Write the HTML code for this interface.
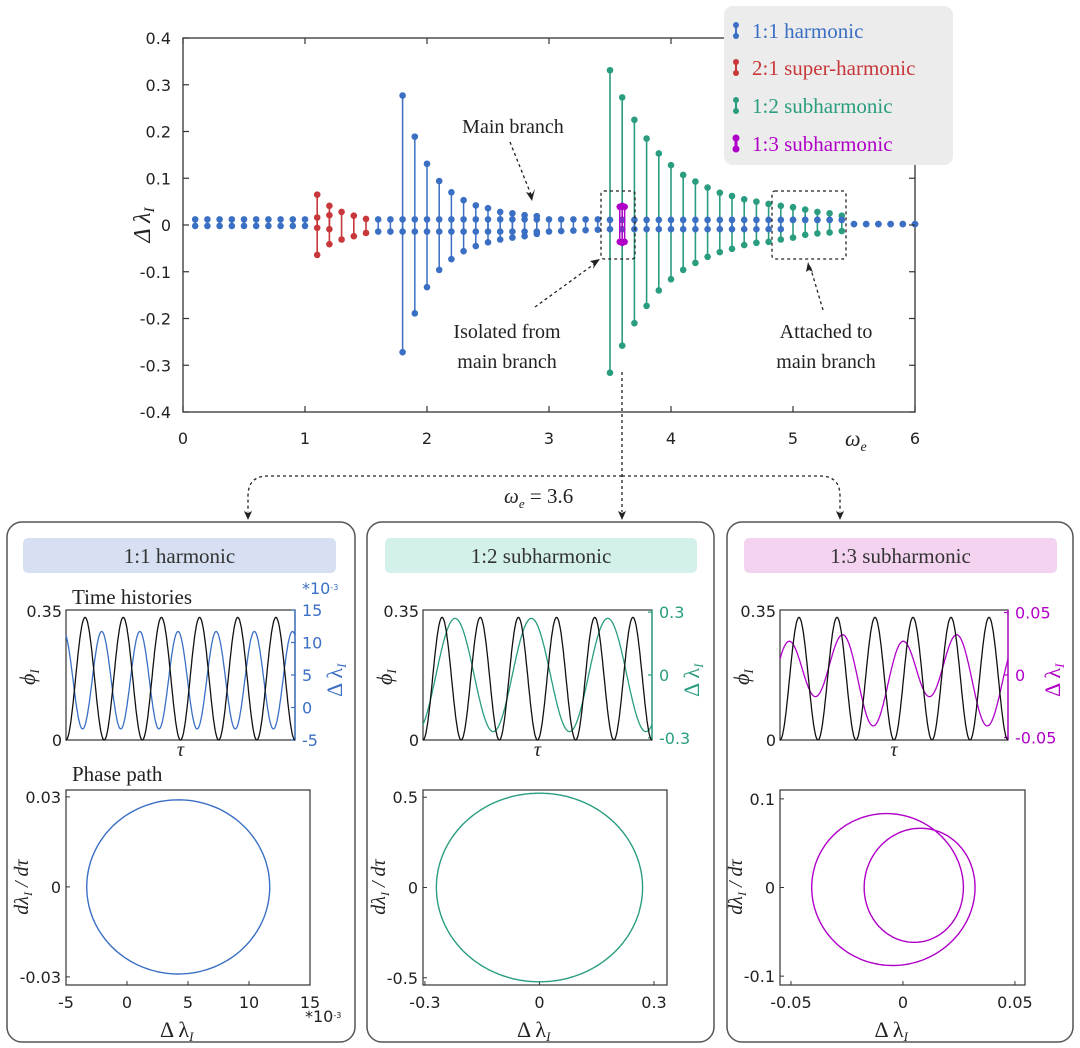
<!DOCTYPE html>
<html><head><meta charset="utf-8">
<style>
html,body{margin:0;padding:0;background:#fff;}
svg{display:block;}
.tk{font-family:"DejaVu Sans","Liberation Sans",sans-serif;font-size:16px;fill:#222;}
.sr{font-family:"Liberation Serif",serif;fill:#222;}
</style></head>
<body>
<svg id="fig" xmlns="http://www.w3.org/2000/svg" width="1080" height="1048" viewBox="0 0 1080 1048">
  <rect x="183" y="38" width="732" height="374" fill="none" stroke="#333" stroke-width="1.3"/>
  <g id="main-marks"></g>
  <text class="sr" x="150" y="225" font-size="24" font-style="italic" text-anchor="middle" transform="rotate(-90 150 225)">Δ λ<tspan font-size="15" dy="4">I</tspan></text>
  <text class="sr" x="845" y="446" font-size="22" font-style="italic">ω<tspan font-size="14" dy="5">e</tspan></text>
  <rect x="601" y="191" width="34" height="68" fill="none" stroke="#222" stroke-width="1.3" stroke-dasharray="3,3" rx="3"/>
  <rect x="772" y="191" width="74" height="68" fill="none" stroke="#222" stroke-width="1.3" stroke-dasharray="3,3" rx="3"/>
  <text class="sr" x="513" y="133" font-size="20" text-anchor="middle">Main branch</text>
  <path d="M510 142 L532 197" stroke="#222" stroke-width="1.3" stroke-dasharray="3,3" fill="none"/>
  <path d="M532 201 l-6 -9 l6 2 l3 -5z" fill="#222"/>
  <text class="sr" x="507" y="338" font-size="20" text-anchor="middle">Isolated from</text>
  <text class="sr" x="507" y="368" font-size="20" text-anchor="middle">main branch</text>
  <path d="M535 307 L597 262" stroke="#222" stroke-width="1.3" stroke-dasharray="3,3" fill="none"/>
  <path d="M600 259 l-10 2 l4 3 l-1 5z" fill="#222"/>
  <text class="sr" x="826" y="338" font-size="20" text-anchor="middle">Attached to</text>
  <text class="sr" x="826" y="368" font-size="20" text-anchor="middle">main branch</text>
  <path d="M823 310 L810 266" stroke="#222" stroke-width="1.3" stroke-dasharray="3,3" fill="none"/>
  <path d="M808 262 l-2 10 l3 -2 l4 2z" fill="#222"/>
  <g id="legend">
    <rect x="724" y="6" width="229" height="159" rx="9" fill="#ececec"/>
    <g><line x1="736" y1="25" x2="736" y2="36" stroke="#3a6fc4" stroke-width="2"/><circle cx="736" cy="25" r="3" fill="#3a6fc4"/><circle cx="736" cy="36" r="3" fill="#3a6fc4"/><text class="sr" x="752" y="38" font-size="21" style="fill:#3a6fc4">1:1 harmonic</text></g>
    <g><line x1="736" y1="62" x2="736" y2="73" stroke="#c8383a" stroke-width="2"/><circle cx="736" cy="62" r="3" fill="#c8383a"/><circle cx="736" cy="73" r="3" fill="#c8383a"/><text class="sr" x="752" y="75" font-size="21" style="fill:#c8383a">2:1 super-harmonic</text></g>
    <g><line x1="736" y1="100" x2="736" y2="111" stroke="#2a9d80" stroke-width="2"/><circle cx="736" cy="100" r="3" fill="#2a9d80"/><circle cx="736" cy="111" r="3" fill="#2a9d80"/><text class="sr" x="752" y="113" font-size="21" style="fill:#2a9d80">1:2 subharmonic</text></g>
    <g><line x1="736" y1="138" x2="736" y2="149" stroke="#b000c8" stroke-width="3"/><circle cx="736" cy="138" r="3.5" fill="#b000c8"/><circle cx="736" cy="149" r="3.5" fill="#b000c8"/><text class="sr" x="752" y="151" font-size="21" style="fill:#b000c8">1:3 subharmonic</text></g>
  </g>
  <path d="M622 372 L622 512" stroke="#222" stroke-width="1.3" stroke-dasharray="3,3" fill="none"/>
  <path d="M622 476 L268 476 Q248 476 248 496 L248 512" stroke="#222" stroke-width="1.3" stroke-dasharray="3,3" fill="none"/>
  <path d="M622 476 L820 476 Q840 476 840 496 L840 512" stroke="#222" stroke-width="1.3" stroke-dasharray="3,3" fill="none"/>
  <path d="M248 520 l-4 -9 l4 2 l4 -2z M622 520 l-4 -9 l4 2 l4 -2z M840 520 l-4 -9 l4 2 l4 -2z" fill="#222"/>
  <text class="sr" x="504" y="503" font-size="21"><tspan font-style="italic">ω</tspan><tspan font-size="13" dy="5" font-style="italic">e</tspan><tspan dy="-5"> = 3.6</tspan></text>
  <g id="panels"></g>
</svg>
<script>
const NS = "http://www.w3.org/2000/svg";
// ---- main chart data ----
const mainX  = [0.1,0.2,0.3,0.4,0.5,0.6,0.7,0.8,0.9,1.0,1.6,1.7,1.8,1.9,2.0,2.1,2.2,2.3,2.4,2.5,2.6,2.7,2.8,2.9,3.0,3.1,3.2,3.3,3.4,3.5,3.6,3.7,3.8,3.9,4.0,4.1,4.2,4.3,4.4,4.5,4.6,4.7,4.8,4.9,5.0,5.1,5.2,5.3,5.4,5.5,5.6,5.7,5.8,5.9,6.0];
const mainUp = [0.012,0.012,0.012,0.012,0.012,0.012,0.012,0.012,0.012,0.012,0.012,0.012,0.012,0.012,0.012,0.012,0.012,0.012,0.012,0.012,0.012,0.012,0.012,0.012,0.012,0.012,0.012,0.012,0.012,0.011,0.011,0.011,0.011,0.011,0.011,0.011,0.011,0.011,0.011,0.011,0.011,0.011,0.011,0.011,0.011,0.011,0.011,0.011,0.011,0.002,0.002,0.002,0.002,0.002,0.002];
const mainLo = [-0.002,-0.002,-0.002,-0.002,-0.002,-0.002,-0.002,-0.002,-0.002,-0.002,-0.014,-0.014,-0.014,-0.014,-0.014,-0.014,-0.014,-0.014,-0.014,-0.014,-0.014,-0.014,-0.014,-0.014,-0.014,-0.013,-0.012,-0.011,-0.010,-0.009,-0.009,-0.009,-0.009,-0.009,-0.009,-0.009,-0.009,-0.009,-0.009,-0.009,-0.009,-0.009,-0.009,-0.009,0.011,0.011,0.011,0.011,0.011,0.002,0.002,0.002,0.002,0.002,0.002];
const harmX   = [1.8,1.9,2.0,2.1,2.2,2.3,2.4,2.5,2.6,2.7,2.8,2.9];
const harmMax = [0.277,0.189,0.131,0.094,0.070,0.053,0.042,0.036,0.028,0.025,0.021,0.019];
const harmMin = [-0.272,-0.189,-0.133,-0.096,-0.073,-0.056,-0.045,-0.037,-0.031,-0.027,-0.024,-0.019];
const superX   = [1.1,1.2,1.3,1.4,1.5];
const superMax = [0.065,0.041,0.028,0.020,0.013];
const superMin = [-0.064,-0.041,-0.031,-0.024,-0.017];
const superInX  = [1.1,1.2];
const superInUp = [0.016,0.021];
const superInLo = [-0.006,-0.009];
const subX   = [3.5,3.6,3.7,3.8,3.9,4.0,4.1,4.2,4.3,4.4,4.5,4.6,4.7,4.8,4.9,5.0,5.1,5.2,5.3,5.4];
const subMax = [0.331,0.273,0.225,0.185,0.153,0.128,0.107,0.093,0.080,0.069,0.062,0.055,0.050,0.045,0.041,0.038,0.033,0.028,0.025,0.020];
const subMin = [-0.316,-0.258,-0.210,-0.173,-0.140,-0.116,-0.096,-0.081,-0.068,-0.058,-0.051,-0.043,-0.038,-0.036,-0.031,-0.027,-0.021,-0.018,-0.016,-0.013];
const sub3X   = [3.58,3.6,3.62];
const sub3Max = [0.039,0.041,0.039];
const sub3Min = [-0.036,-0.038,-0.036];
const xTicks = [0,1,2,3,4,5,6];
const yTicks = [0.4,0.3,0.2,0.1,0,-0.1,-0.2,-0.3,-0.4];
const yTickLabels = ["0.4","0.3","0.2","0.1","0","-0.1","-0.2","-0.3","-0.4"];

const C = {blue:"#3a6fc4", red:"#c8383a", green:"#2a9d80", mag:"#b000c8"};
const X = v => 183 + v*122;
const Y = v => 225 - v*467.5;
function add(p, tag, attrs){ const el=document.createElementNS(NS,tag); for(const k in attrs) el.setAttribute(k,attrs[k]); p.appendChild(el); return el; }
const fig = document.getElementById('fig');
const mm = document.getElementById('main-marks');

xTicks.forEach(v=>{
  let t = add(fig,'line',{x1:X(v),x2:X(v),y1:412,y2:406,stroke:'#333','stroke-width':1.2});
  
  
  let t2 = add(fig,'line',{x1:X(v),x2:X(v),y1:38,y2:44,stroke:'#333','stroke-width':1.2});
  
  
  let l = add(fig,'text',{x:X(v),y:444,'text-anchor':'middle',class:'tk','font-size':17});
  l.textContent = String(v);
  
  
});
yTicks.forEach((v,i)=>{
  let t = add(fig,'line',{x1:183,x2:189,y1:Y(v),y2:Y(v),stroke:'#333','stroke-width':1.2});
  
  
  let t2 = add(fig,'line',{x1:915,x2:909,y1:Y(v),y2:Y(v),stroke:'#333','stroke-width':1.2});
  
  
  let l = add(fig,'text',{x:171,y:Y(v)+6,'text-anchor':'end',class:'tk','font-size':17});
  l.textContent = yTickLabels[i];
  
  
});
fig.appendChild(document.getElementById('legend'));

function stems(xs, hi, lo, col, name, r, w){
  xs.forEach((x,i)=>{
    let s = add(mm,'line',{x1:X(x),x2:X(x),y1:Y(hi[i]),y2:Y(lo[i]),stroke:col,'stroke-width':w});
    
    
    let a = add(mm,'circle',{cx:X(x),cy:Y(hi[i]),r:r,fill:col});
    
    
    let b = add(mm,'circle',{cx:X(x),cy:Y(lo[i]),r:r,fill:col});
    
    
  });
}
stems(harmX, harmMax, harmMin, C.blue, 'harmonic', 3.3, 1.5);
stems(subX, subMax, subMin, C.green, 'subharmonic-12', 3.3, 1.6);
stems(superX, superMax, superMin, C.red, 'superharmonic', 3.3, 1.6);
stems(superInX, superInUp, superInLo, C.red, 'superharmonic-inner', 3.3, 1.6);
stems(mainX, mainUp, mainLo, C.blue, 'main-branch', 3.3, 1.5);
stems(sub3X, sub3Max, sub3Min, C.mag, 'subharmonic-13', 3.3, 1.5);

// ---- detail panels data ----
const phiMean = [0.165, 0.165, 0.165];
const phiAmp  = [0.165, 0.165, 0.165];
// response harmonics per panel: [mean, amp, freq (per forcing cycle), phase(cycles)]
const resp1 = [[0.0042, 0.0075, 1, 0.935]];
const resp2 = [[0, 0.27, 0.5, 0.42]];
const resp3 = [[0, 0.012, 1/3, 0.35],[0, 0.029, 2/3, 0.13]];
const omegaTau = 3.87;
const ts1Ticks = [15,10,5,0,-5];
const ts2Ticks = [0.3,0,-0.3];
const ts3Ticks = [0.05,0,-0.05];
const ts1Labels = ["15","10","5","0","-5"];
const ts2Labels = ["0.3","0","-0.3"];
const ts3Labels = ["0.05","0","-0.05"];
const ph1X = [-5,0,5,10,15], ph1XL = ["-5","0","5","10","15"];
const ph1Y = [0.03,0,-0.03], ph1YL = ["0.03","0","-0.03"];
const ph2X = [-0.3,0,0.3], ph2XL = ["-0.3","0","0.3"];
const ph2Y = [0.5,0,-0.5], ph2YL = ["0.5","0","-0.5"];
const ph3X = [-0.05,0,0.05], ph3XL = ["-0.05","0","0.05"];
const ph3Y = [0.1,0,-0.1], ph3YL = ["0.1","0","-0.1"];

const panels = [
 {name:'harmonic', title:'1:1 harmonic', tb:'#d6e0f2', col:C.blue, box:[7,522,348,520], tit:[23,538,313,35], L:66, R:295, L2:66, R2:310,
  resp:resp1, rl:[-5,15], rscale:1000, rt:ts1Ticks, rtl:ts1Labels, px:[-5,15], pxs:1000, py:[-0.0327,0.0323], pxt:ph1X, pxtl:ph1XL, pyt:ph1Y, pytl:ph1YL, k:0},
 {name:'subharmonic-12', title:'1:2 subharmonic', tb:'#d3f0ea', col:C.green, box:[367,522,347,520], tit:[385,538,312,35], L:423, R:652, L2:423, R2:667,
  resp:resp2, rl:[-0.31,0.31], rscale:1, rt:ts2Ticks, rtl:ts2Labels, px:[-0.305,0.334], pxs:1, py:[-0.54,0.54], pxt:ph2X, pxtl:ph2XL, pyt:ph2Y, pytl:ph2YL, k:1},
 {name:'subharmonic-13', title:'1:3 subharmonic', tb:'#f3d3ef', col:C.mag, box:[727,522,346,520], tit:[744,538,313,35], L:780, R:1008, L2:780, R2:1025,
  resp:resp3, rl:[-0.052,0.052], rscale:1, rt:ts3Ticks, rtl:ts3Labels, px:[-0.0549,0.0545], pxs:1, py:[-0.11,0.11], pxt:ph3X, pxtl:ph3XL, pyt:ph3Y, pytl:ph3YL, k:2}
];
const PG = document.getElementById('panels');
function lam(resp,T){ let s=0; resp.forEach(h=>{ s+= h[0] + h[1]*Math.cos(2*Math.PI*(h[2]*T - h[3])); }); return s; }
function dlam(resp,T){ let s=0; resp.forEach(h=>{ s+= -h[1]*omegaTau*h[2]*Math.sin(2*Math.PI*(h[2]*T - h[3])); }); return s; }
function txt(g,x,y,s,attrs,name){ const t=add(g,'text',Object.assign({x:x,y:y},attrs)); t.textContent=s;   return t; }
function sub(t, s, size, dy, italic){ const ts=add(t,'tspan',{'font-size':size,dy:dy}); if(italic) ts.setAttribute('font-style','italic'); ts.textContent=s; return ts; }

panels.forEach(p=>{
  const g = add(PG,'g',{});
  
  
  const b = add(g,'rect',{x:p.box[0],y:p.box[1],width:p.box[2],height:p.box[3],rx:15,fill:'none',stroke:'#555','stroke-width':1.5});
  
  
  const tb = add(g,'rect',{x:p.tit[0],y:p.tit[1],width:p.tit[2],height:p.tit[3],rx:5,fill:p.tb});
  
  
  txt(g,p.tit[0]+p.tit[2]/2,p.tit[1]+25,p.title,{class:'sr','font-size':21,'text-anchor':'middle',style:'fill:#333'},'panel-title');
  const T0=610,B0=740,L=p.L,R=p.R;
  if(p.k===0){ txt(g,72,604,'Time histories',{class:'sr','font-size':21},'time-histories-label');
               txt(g,72,781,'Phase path',{class:'sr','font-size':21},'phase-path-label');
               const e = txt(g,302,594,'*10',{class:'tk','font-size':10,style:'fill:'+p.col},'exponent-label');
               sub(e,'-3',8,-4,false); }
  const fr = add(g,'rect',{x:L,y:T0,width:R-L,height:B0-T0,fill:'none',stroke:'#333','stroke-width':1.2});
  
  
  const ra = add(g,'line',{x1:R,x2:R,y1:T0,y2:B0,stroke:p.col,'stroke-width':1.4});
  
  
  txt(g,L-4,T0+7,'0.35',{class:'tk','font-size':15,'text-anchor':'end'},'phi-tick-label');
  txt(g,L-4,B0+6,'0',{class:'tk','font-size':15,'text-anchor':'end'},'phi-tick-label');
  const ry = v => B0 - (v - p.rl[0])/(p.rl[1]-p.rl[0])*(B0-T0);
  p.rt.forEach((v,i)=>{
    const yy = ry(v);
    txt(g,R+7,yy+6,p.rtl[i],{class:'tk','font-size':15,style:'fill:'+p.col},'right-tick-label');
    const tl = add(g,'line',{x1:R,x2:R-4,y1:yy,y2:yy,stroke:p.col,'stroke-width':1.2});
    
    
  });
  const pt = txt(g,0,0,'ϕ',{class:'sr','font-size':22,'font-style':'italic',transform:`translate(${L-31},${(T0+B0)/2+10}) rotate(-90)`},'phi-axis-title');
  sub(pt,'I',13,4,true);
  const dt = txt(g,0,0,'Δ λ',{class:'sr','font-size':22,style:'fill:'+p.col,transform:`translate(${R+ (p.k==2?52:47)},${(T0+B0)/2+22}) rotate(-90)`},'delta-lambda-axis-title');
  sub(dt,'I',13,4,true);
  txt(g,(L+R)/2,B0+16,'τ',{class:'sr','font-size':20,'font-style':'italic','text-anchor':'middle'},'tau-label');
  const N=600; let dPhi='', dL='';
  for(let i=0;i<=N;i++){
    const T = 6*i/N, x = L + (R-L)*i/N;
    const ph = phiMean[p.k] - phiAmp[p.k]*Math.cos(2*Math.PI*T);
    const yp = B0 - ph/0.35*(B0-T0);
    const ylam = ry(lam(p.resp,T)*p.rscale);
    dPhi += (i?'L':'M')+x.toFixed(1)+' '+yp.toFixed(1);
    dL += (i?'L':'M')+x.toFixed(1)+' '+ylam.toFixed(1);
  }
  const lc = add(g,'path',{d:dL,fill:'none',stroke:p.col,'stroke-width':1.3});
  
  
  const pc = add(g,'path',{d:dPhi,fill:'none',stroke:'#111','stroke-width':1.3});
  
  
  const T1=790,B1=985,L2=p.L2,R2=p.R2;
  const fx = v => L2 + (v - p.px[0])/(p.px[1]-p.px[0])*(R2-L2);
  const fy = v => B1 - (v - p.py[0])/(p.py[1]-p.py[0])*(B1-T1);
  const pf = add(g,'rect',{x:L2,y:T1,width:R2-L2,height:B1-T1,fill:'none',stroke:'#333','stroke-width':1.2});
  
  
  p.pxt.forEach((v,i)=>{ txt(g,fx(v),1008,p.pxtl[i],{class:'tk','font-size':16,'text-anchor':'middle'},'phase-x-tick-label');
    const t=add(g,'line',{x1:fx(v),x2:fx(v),y1:B1,y2:B1-4,stroke:'#333'});   });
  p.pyt.forEach((v,i)=>{ txt(g,L2-5,fy(v)+6,p.pytl[i],{class:'tk','font-size':16,'text-anchor':'end'},'phase-y-tick-label');
    const t=add(g,'line',{x1:L2,x2:L2+4,y1:fy(v),y2:fy(v),stroke:'#333'});   });
  if(p.k===0){ const e2 = txt(g,305,1022,'*10',{class:'tk','font-size':10},'phase-exponent-label'); sub(e2,'-3',8,-4,false); }
  const xt = txt(g,(L2+R2)/2-28,1037,'Δ λ',{class:'sr','font-size':22},'phase-x-axis-title');
  sub(xt,'I',13,4,true);
  const yt = txt(g,0,0,'dλ',{class:'sr','font-size':20,'font-style':'italic','text-anchor':'middle',transform:`translate(${L2-38},887) rotate(-90)`},'phase-y-axis-title');
  sub(yt,'I',12,4,true); sub(yt,' / dτ',20,-4,true);
  let dp='';
  for(let i=0;i<=900;i++){
    const T = 6*i/900;
    const xv = lam(p.resp,T)*p.pxs, yv = dlam(p.resp,T);
    dp += (i?'L':'M')+fx(xv).toFixed(1)+' '+fy(yv).toFixed(1);
  }
  const pp = add(g,'path',{d:dp,fill:'none',stroke:p.col,'stroke-width':1.4});
  
  
});
</script>
</body></html>
